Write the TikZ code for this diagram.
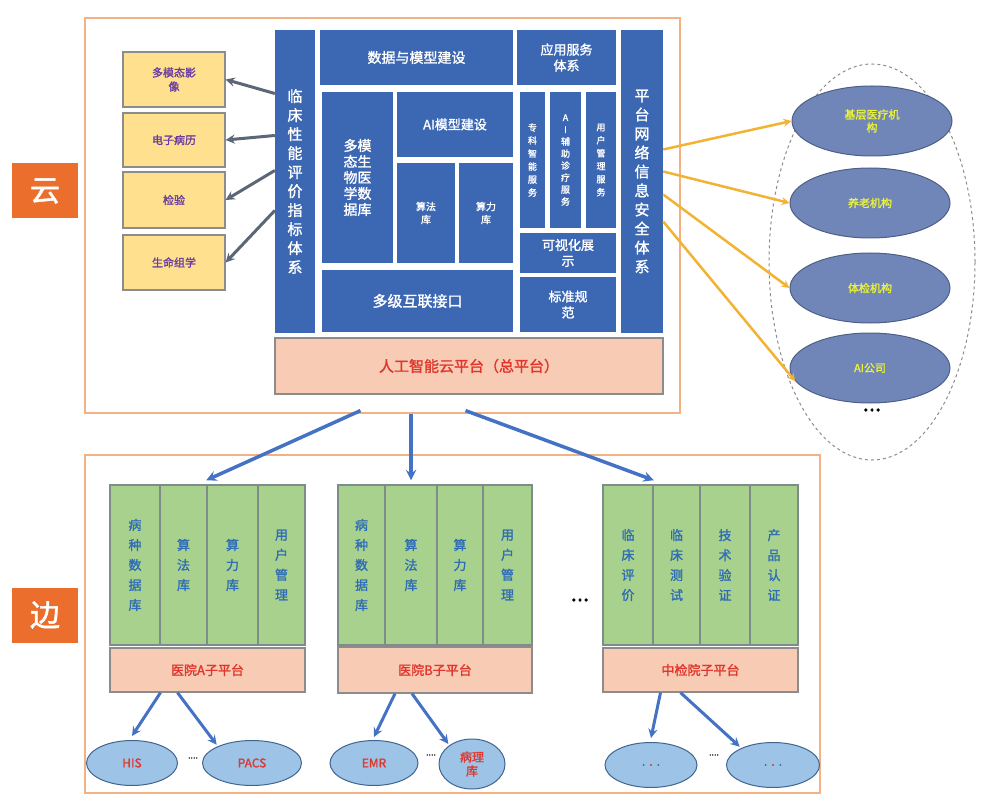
\documentclass[tikz,border=0pt]{standalone}
\usepackage{fontspec}
\setmainfont{Noto Sans CJK SC}[AutoFakeBold=1.5]
\usetikzlibrary{shapes.geometric}
\definecolor{cloudblue}{HTML}{3C67B3}
\definecolor{outline}{HTML}{F4B183}
\definecolor{boxgray}{HTML}{8C8C8C}
\definecolor{ylw}{HTML}{FFE08F}
\definecolor{txtpurple}{HTML}{6A3DA0}
\definecolor{peach}{HTML}{F8CBB4}
\definecolor{txtred}{HTML}{E0362C}
\definecolor{slate}{HTML}{7086B8}
\definecolor{slatedark}{HTML}{4E5F86}
\definecolor{ylwtxt}{HTML}{ECF23A}
\definecolor{grn}{HTML}{A9D18E}
\definecolor{colgray}{HTML}{7E8C8A}
\definecolor{txtblue}{HTML}{2F6DB5}
\definecolor{ltblue}{HTML}{9DC3E6}
\definecolor{srcline}{HTML}{41648F}
\definecolor{arrgray}{HTML}{5B6676}
\definecolor{arrorange}{HTML}{F2B233}
\definecolor{arrblue}{HTML}{4472C4}
\definecolor{tagorange}{HTML}{EC6E2C}
\begin{document}
\begin{tikzpicture}[x=1pt,y=-1pt,
      outer/.style={draw=outline,line width=1.2pt},
      blk/.style={fill=cloudblue,text=white,inner sep=0pt,align=center,
                  font=\fontsize{13}{16}\selectfont\bfseries},
      ybox/.style={draw=boxgray,fill=ylw,line width=1.2pt,text=txtpurple,
                   minimum width=102pt,inner sep=0pt,align=center,
                   font=\fontsize{11}{14}\selectfont\bfseries},
      plat/.style={draw=boxgray,fill=peach,line width=1.2pt,text=txtred,
                   inner sep=0pt,font=\fontsize{13}{16}\selectfont\bfseries},
      org/.style={ellipse,draw=slatedark,fill=slate,line width=1pt,text=ylwtxt,
                  minimum width=160pt,minimum height=70pt,inner sep=0pt,align=center,
                  font=\fontsize{11}{13}\selectfont\bfseries},
      col/.style={draw=colgray,fill=grn,line width=1.5pt,text=txtblue,
                  minimum height=160pt,inner sep=0pt,align=center,
                  font=\fontsize{13}{20}\selectfont\bfseries},
      src/.style={ellipse,draw=srcline,fill=ltblue,line width=1pt,text=txtred,
                  minimum height=45pt,inner sep=0pt,align=center,
                  font=\fontsize{12}{14}\selectfont\bfseries},
      tag/.style={fill=tagorange,text=white,minimum width=66pt,minimum height=55pt,
                  font=\fontsize{30}{30}\selectfont\bfseries},
      dots/.style={font=\fontsize{22}{22}\selectfont\bfseries},
      garr/.style={->,>=stealth,line width=3pt,draw=arrgray},
      oarr/.style={->,>=stealth,line width=2.5pt,draw=arrorange},
      barr/.style={->,>=stealth,line width=3.5pt,draw=arrblue}
    ]
    \useasboundingbox (0,0) rectangle (985,794);
    % Outer frames and tags
    \node[outer,minimum width=595pt,minimum height=395pt] (cloud) at (382.5,215.5) {};
    \node[outer,minimum width=735pt,minimum height=338pt] (edge) at (452.5,624) {};
    \node[tag] (tcloud) at (45,191) {云};
    \node[tag] (tedge) at (45,615) {边};
    % Cloud platform blocks
    \node[blk,minimum width=40pt,minimum height=303pt,font=\fontsize{15}{19}\selectfont\bfseries] (lcol) at (295,181.5)
      {临\\床\\性\\能\\评\\价\\指\\标\\体\\系};
    \node[blk,minimum width=42pt,minimum height=303pt,font=\fontsize{15}{19}\selectfont\bfseries] (rcol) at (642,181.5)
      {平\\台\\网\\络\\信\\息\\安\\全\\体\\系};
    \node[blk,minimum width=193pt,minimum height=55pt,font=\fontsize{14}{16}\selectfont\bfseries] (dmod) at (416.5,57.5) {数据与模型建设};
    \node[blk,minimum width=99pt,minimum height=55pt] (appsvc) at (566.5,57.5) {应用服务\\体系};
    \node[blk,minimum width=71pt,minimum height=171pt,font=\fontsize{14}{16}\selectfont\bfseries] (mmdb) at (357.5,177.5)
      {多模\\态生\\物医\\学数\\据库};
    \node[blk,minimum width=116pt,minimum height=65pt] (aimod) at (455,124.5) {AI模型建设};
    \node[blk,minimum width=58pt,minimum height=100pt,font=\fontsize{10}{13}\selectfont\bfseries] (algo) at (426,213) {算法\\库};
    \node[blk,minimum width=54pt,minimum height=100pt,font=\fontsize{10}{13}\selectfont\bfseries] (comp) at (486,213) {算力\\库};
    \node[blk,minimum width=25pt,minimum height=136pt,font=\fontsize{9}{13}\selectfont\bfseries] (thin1) at (532.5,160)
      {专\\科\\智\\能\\服\\务};
    \node[blk,minimum width=31pt,minimum height=136pt,font=\fontsize{9}{12}\selectfont\bfseries] (thin2) at (565.5,160)
      {A\\I\\辅\\助\\诊\\疗\\服\\务};
    \node[blk,minimum width=30pt,minimum height=136pt,font=\fontsize{9}{13}\selectfont\bfseries] (thin3) at (601,160)
      {用\\户\\管\\理\\服\\务};
    \node[blk,minimum width=96pt,minimum height=40pt] (visual) at (568,253) {可视化展\\示};
    \node[blk,minimum width=96pt,minimum height=55pt] (std) at (568,304.5) {标准规\\范};
    \node[blk,minimum width=191pt,minimum height=62pt,font=\fontsize{15}{18}\selectfont\bfseries] (iface) at (417.5,301) {多级互联接口};
    \node[plat,minimum width=388pt,minimum height=56pt,font=\fontsize{15}{18}\selectfont\bfseries] (cplat) at (469,366)
      {人工智能云平台（总平台）};
    % Data sources on the left
    \node[ybox,minimum height=55pt] (img) at (174,79.5) {多模态影\\像};
    \node[ybox,minimum height=54pt] (emrec) at (174,140) {电子病历};
    \node[ybox,minimum height=56pt] (lab) at (174,200) {检验};
    \node[ybox,minimum height=55pt] (omics) at (174,262.5) {生命组学};
    \draw[garr] ([yshift=88pt]lcol.west) -- (img.east);
    \draw[garr] ([yshift=46pt]lcol.west) -- (emrec.east);
    \draw[garr] ([yshift=11pt]lcol.west) -- (lab.east);
    \draw[garr] ([yshift=-29pt]lcol.west) -- (omics.east);
    % Users on the right
    \node[ellipse,draw=boxgray,dashed,line width=1pt,minimum width=206pt,minimum height=396pt] (users) at (872,262) {};
    \node[org] (base) at (872,121) {基层医疗机\\构};
    \node[org] (elder) at (870,203) {养老机构};
    \node[org] (check) at (870,288) {体检机构};
    \node[org] (aico) at (870,368) {AI公司};
    \node[dots] (umore) at (872,410) {...};
    \draw[oarr] ([yshift=32pt]rcol.east) -- (base.west);
    \draw[oarr] ([yshift=10pt]rcol.east) -- (elder.west);
    \draw[oarr] ([yshift=-13pt]rcol.east) -- (check.west);
    \draw[oarr] ([yshift=-40pt]rcol.east) -- (aico.190);
    % Edge: hospital A
    \node[col,minimum width=50pt] (ga1) at (135,565) {病\\种\\数\\据\\库};
    \node[col,minimum width=47pt] (ga2) at (183.5,565) {算\\法\\库};
    \node[col,minimum width=51pt] (ga3) at (232.5,565) {算\\力\\库};
    \node[col,minimum width=47pt] (ga4) at (281.5,565) {用\\户\\管\\理};
    \node[plat,minimum width=195pt,minimum height=44pt] (suba) at (207.5,670) {医院A子平台};
    % Edge: hospital B
    \node[col,minimum width=47pt] (gb1) at (361.5,565) {病\\种\\数\\据\\库};
    \node[col,minimum width=52pt] (gb2) at (411,565) {算\\法\\库};
    \node[col,minimum width=46pt] (gb3) at (460,565) {算\\力\\库};
    \node[col,minimum width=49pt] (gb4) at (507.5,565) {用\\户\\管\\理};
    \node[plat,minimum width=194pt,minimum height=46pt] (subb) at (435,670) {医院B子平台};
    \node[dots] (gmore) at (580,600) {...};
    % Edge: NIFDC
    \node[col,minimum width=50pt] (gc1) at (628,565) {临\\床\\评\\价};
    \node[col,minimum width=47pt] (gc2) at (676.5,565) {临\\床\\测\\试};
    \node[col,minimum width=50pt] (gc3) at (725,565) {技\\术\\验\\证};
    \node[col,minimum width=48pt] (gc4) at (774,565) {产\\品\\认\\证};
    \node[plat,minimum width=195pt,minimum height=44pt] (subc) at (700.5,670) {中检院子平台};
    % Cloud to edge
    \draw[barr] ([xshift=-22pt,yshift=3pt]cloud.south) -- ([yshift=4pt]ga3.north west);
    \draw[barr] (gb2.north |- cloud.south) -- ([yshift=4pt]gb2.north);
    \draw[barr] ([xshift=83pt,yshift=3pt]cloud.south) -- ([yshift=4pt]gc1.north east);
    % Local systems
    \node[src,minimum width=91pt] (his) at (132,763) {HIS};
    \node[src,minimum width=99pt] (pacs) at (252,763) {PACS};
    \node[src,minimum width=88pt] (emr) at (374,763) {EMR};
    \node[src,minimum width=66pt,minimum height=50pt] (path) at (472,764) {病理\\库};
    \node[src,minimum width=92pt] (loc1) at (651,765)
      {\textcolor{srcline}{.}\,\,\textcolor{txtred}{.}\,\,\textcolor{srcline}{.}};
    \node[src,minimum width=93pt] (loc2) at (773,765)
      {\textcolor{srcline}{.}\,\,\textcolor{txtred}{.}\,\,\textcolor{srcline}{.}};
    \node[dots,font=\fontsize{9}{9}\selectfont\bfseries] (amore) at (193,758) {....};
    \node[dots,font=\fontsize{9}{9}\selectfont\bfseries] (bmore) at (431,755) {....};
    \node[dots,font=\fontsize{9}{9}\selectfont\bfseries] (cmore) at (714,755) {....};
    \draw[barr,line width=3pt] ([xshift=-47pt]suba.south) -- ([yshift=4pt]his.north);
    \draw[barr,line width=3pt] ([xshift=-30pt]suba.south) -- ([yshift=2pt]pacs.north west);
    \draw[barr,line width=3pt] ([xshift=-40pt]subb.south) -- ([yshift=3pt]emr.north);
    \draw[barr,line width=3pt] ([xshift=-23pt]subb.south) -- ([yshift=2pt]path.north west);
    \draw[barr,line width=3pt] ([xshift=-40pt]subc.south) -- ([yshift=4pt]loc1.north);
    \draw[barr,line width=3pt] ([xshift=-20pt]subc.south) -- ([yshift=2pt]loc2.north west);
  \end{tikzpicture}
\end{document}
